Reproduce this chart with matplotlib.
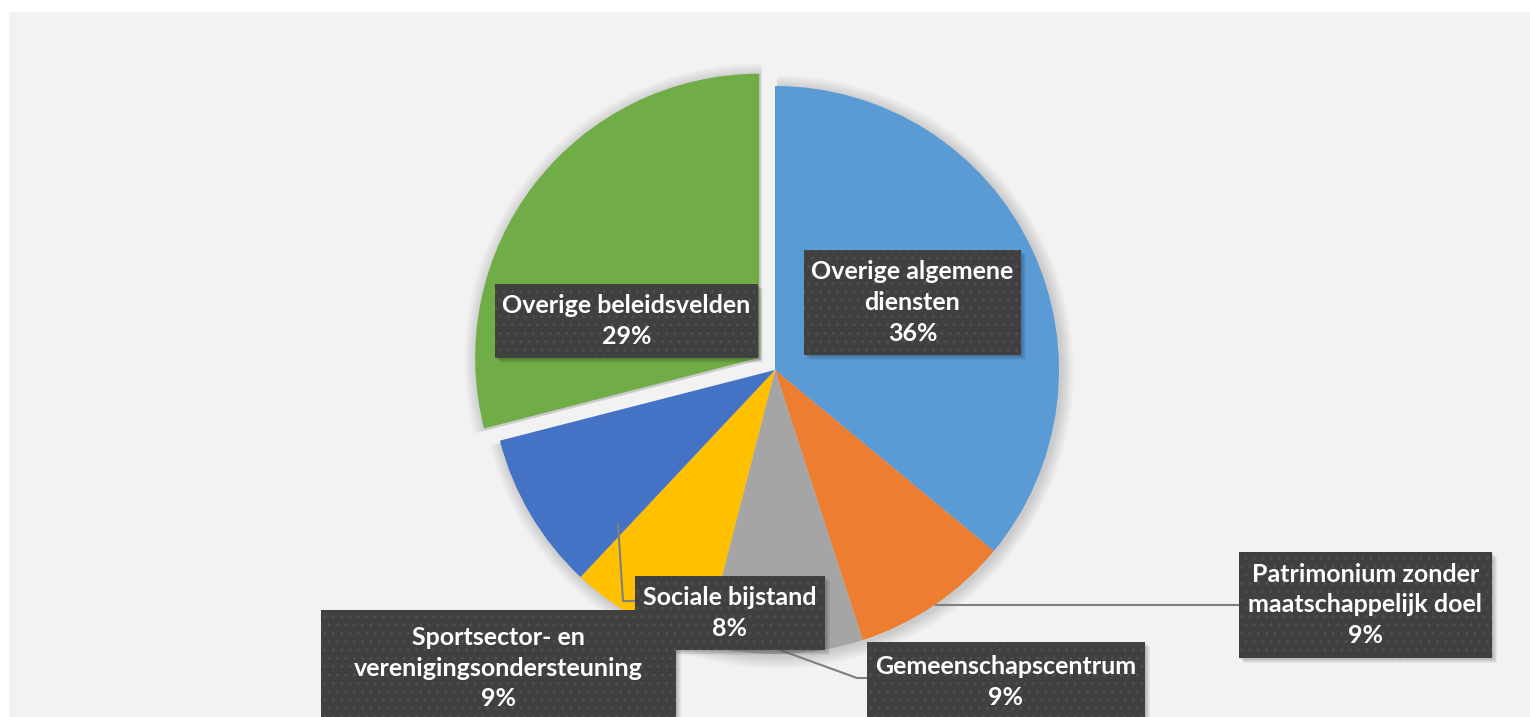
import matplotlib
matplotlib.use("Agg")
import matplotlib.pyplot as plt
from matplotlib.patches import Rectangle, Wedge

W, H = 1530, 717

# data
labels = [
    "Overige algemene\ndiensten",
    "Patrimonium zonder\nmaatschappelijk doel",
    "Gemeenschapscentrum",
    "Sociale bijstand",
    "Sportsector- en\nverenigingsondersteuning",
    "Overige beleidsvelden",
]
values = [36, 9, 9, 8, 9, 29]
colors = ["#5B9BD5", "#ED7D31", "#A5A5A5", "#FFC000", "#4472C4", "#70AD47"]
explode = [0, 0, 0, 0, 0, 20]

# label boxes in pixel coords (x0, y0, x1, y1), y from top
boxes = [
    (804, 250, 1021, 355),
    (1239, 552, 1492, 658),
    (867, 642, 1145, 722),
    (635, 576, 825, 650),
    (321, 610, 676, 726),
    (495, 284, 758, 358),
]
# leader lines (pixel coords)
leaders = [
    None,
    [(935, 605), (1239, 605)],
    [(780, 650), (857, 678), (867, 678)],
    [(618, 523), (623, 601), (635, 601)],
    None,
    None,
]

cx, cy, r = 775, 370, 284


def py(y):
    return H - y


fig = plt.figure(figsize=(W / 100, H / 100), dpi=100)
fig.patch.set_facecolor("white")
ax = fig.add_axes([0, 0, 1, 1])

# chart area background
ax.add_patch(Rectangle((9, 0), W, py(12), facecolor="#F2F2F2", edgecolor="none", zorder=0))

wedges, _ = ax.pie(values, colors=colors, startangle=90, counterclock=False,
                   explode=explode, radius=r, center=(cx, py(cy)),
                   wedgeprops=dict(linewidth=0), frame=True)
ax.set_xlim(0, W)
ax.set_ylim(0, H)
ax.set_aspect("equal")
ax.axis("off")

# soft shadow behind wedges
for w in wedges:
    w.set_zorder(3)
    for k in range(1, 14):
        ax.add_patch(Wedge((w.center[0] + 2, w.center[1] - 2), w.r + k, w.theta1, w.theta2,
                           facecolor="black", edgecolor="none", alpha=0.012, zorder=2))

for lab, v, (x0, y0, x1, y1), ld in zip(labels, values, boxes, leaders):
    if ld:
        xs = [p[0] for p in ld]
        ys = [py(p[1]) for p in ld]
        ax.plot(xs, ys, color="#7F7F7F", lw=1.5, zorder=4, solid_capstyle="butt")
    for k in range(1, 6):
        ax.add_patch(Rectangle((x0 + k, py(y1) - k), x1 - x0, y1 - y0,
                               facecolor="black", edgecolor="none", alpha=0.05, zorder=5))
    ax.add_patch(Rectangle((x0, py(y1)), x1 - x0, y1 - y0, facecolor="#404040",
                           edgecolor="#4F4F4F", hatch="..", linewidth=0, zorder=6))
    ax.text((x0 + x1) / 2, py((y0 + y1) / 2), f"{lab}\n{v}%", ha="center", va="center",
            color="white", fontsize=18, fontweight="bold", family="Lato",
            linespacing=1.4, zorder=7)

fig.savefig("out.png", dpi=100, facecolor="white")
